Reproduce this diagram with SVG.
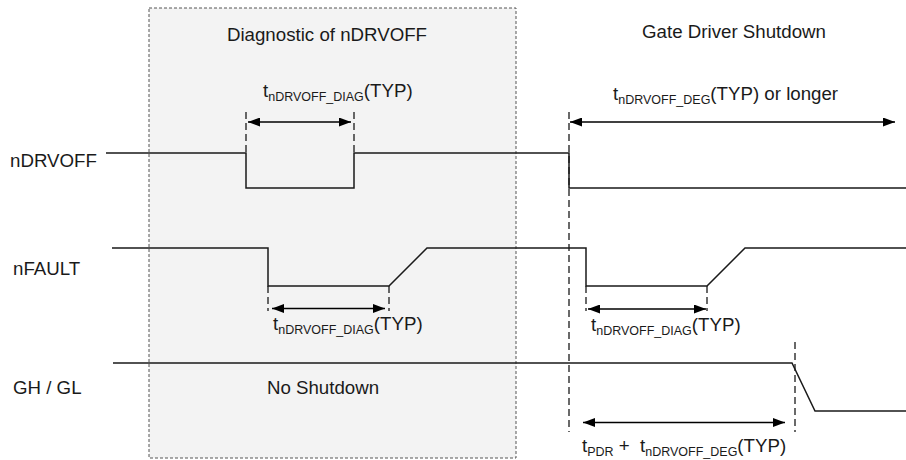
<svg xmlns="http://www.w3.org/2000/svg" width="906" height="460" viewBox="0 0 906 460">
<defs>
<marker id="ah" viewBox="0 0 12 9" refX="12" refY="4.5" markerWidth="12" markerHeight="9" markerUnits="userSpaceOnUse" orient="auto-start-reverse">
<path d="M0,0 L12,4.5 L0,9 Z" fill="#000"/>
</marker>
</defs>
<style>
text{font-family:"Liberation Sans",Arial,sans-serif;fill:#1a1a1a;font-size:18.7px}
.sub{font-size:12.5px}
.sig{fill:none;stroke:#1a1a1a;stroke-width:1.5}
.mark{fill:none;stroke:#1a1a1a;stroke-width:1.3;stroke-dasharray:7,4}
.dim{fill:none;stroke:#000;stroke-width:1.5;marker-start:url(#ah);marker-end:url(#ah)}
</style>
<rect id="diag-region" x="149" y="8" width="367" height="450" fill="#f3f3f3" stroke="#555" stroke-width="1" stroke-dasharray="3,2"/>
<g id="titles">
<text x="327" y="41" text-anchor="middle">Diagnostic of nDRVOFF</text>
<text x="734" y="38" text-anchor="middle">Gate Driver Shutdown</text>
<text x="323" y="394" text-anchor="middle">No Shutdown</text>
</g>
<g id="sig-labels">
<text x="10" y="167">nDRVOFF</text>
<text x="13" y="275">nFAULT</text>
<text x="13" y="394">GH / GL</text>
</g>
<g id="signals">
<path id="nDRVOFF" class="sig" d="M106,153 H246 V188 H354 V153 H569 V188 H906"/>
<path id="nFAULT" class="sig" d="M112,248 H268 V286 H389 L427,248 H586 V286 H707 L745,248 H906"/>
<path id="GHGL" class="sig" d="M113,363 H792 L815,411 H906"/>
</g>
<g id="connectors">
<line class="mark" x1="246" y1="112" x2="246" y2="153"/>
<line class="mark" x1="354" y1="112" x2="354" y2="153"/>
<line class="mark" x1="569" y1="112" x2="569" y2="432"/>
<line class="mark" x1="268" y1="286" x2="268" y2="311"/>
<line class="mark" x1="389" y1="286" x2="389" y2="311"/>
<line class="mark" x1="586" y1="286" x2="586" y2="311"/>
<line class="mark" x1="707" y1="286" x2="707" y2="311"/>
<line class="mark" x1="795" y1="342" x2="795" y2="432"/>
<line class="dim" x1="248" y1="122" x2="351" y2="122"/>
<line class="dim" x1="570" y1="122" x2="895" y2="122"/>
<line class="dim" x1="272" y1="308.5" x2="385" y2="308.5"/>
<line class="dim" x1="588" y1="309" x2="706" y2="309"/>
<line class="dim" x1="583" y1="422.5" x2="785" y2="422.5"/>
</g>
<g id="dim-labels">
<text x="263" y="97">t<tspan class="sub" dy="4">nDRVOFF_DIAG</tspan><tspan dy="-4">(TYP)</tspan></text>
<text x="613" y="100">t<tspan class="sub" dy="4">nDRVOFF_DEG</tspan><tspan dy="-4">(TYP) or longer</tspan></text>
<text x="273" y="330">t<tspan class="sub" dy="4">nDRVOFF_DIAG</tspan><tspan dy="-4">(TYP)</tspan></text>
<text x="591" y="331">t<tspan class="sub" dy="4">nDRVOFF_DIAG</tspan><tspan dy="-4">(TYP)</tspan></text>
<text x="582" y="452">t<tspan class="sub" dy="4">PDR</tspan><tspan dy="-4"> +</tspan><tspan x="640">t</tspan><tspan class="sub" dy="4">nDRVOFF_DEG</tspan><tspan dy="-4">(TYP)</tspan></text>
</g>
</svg>
